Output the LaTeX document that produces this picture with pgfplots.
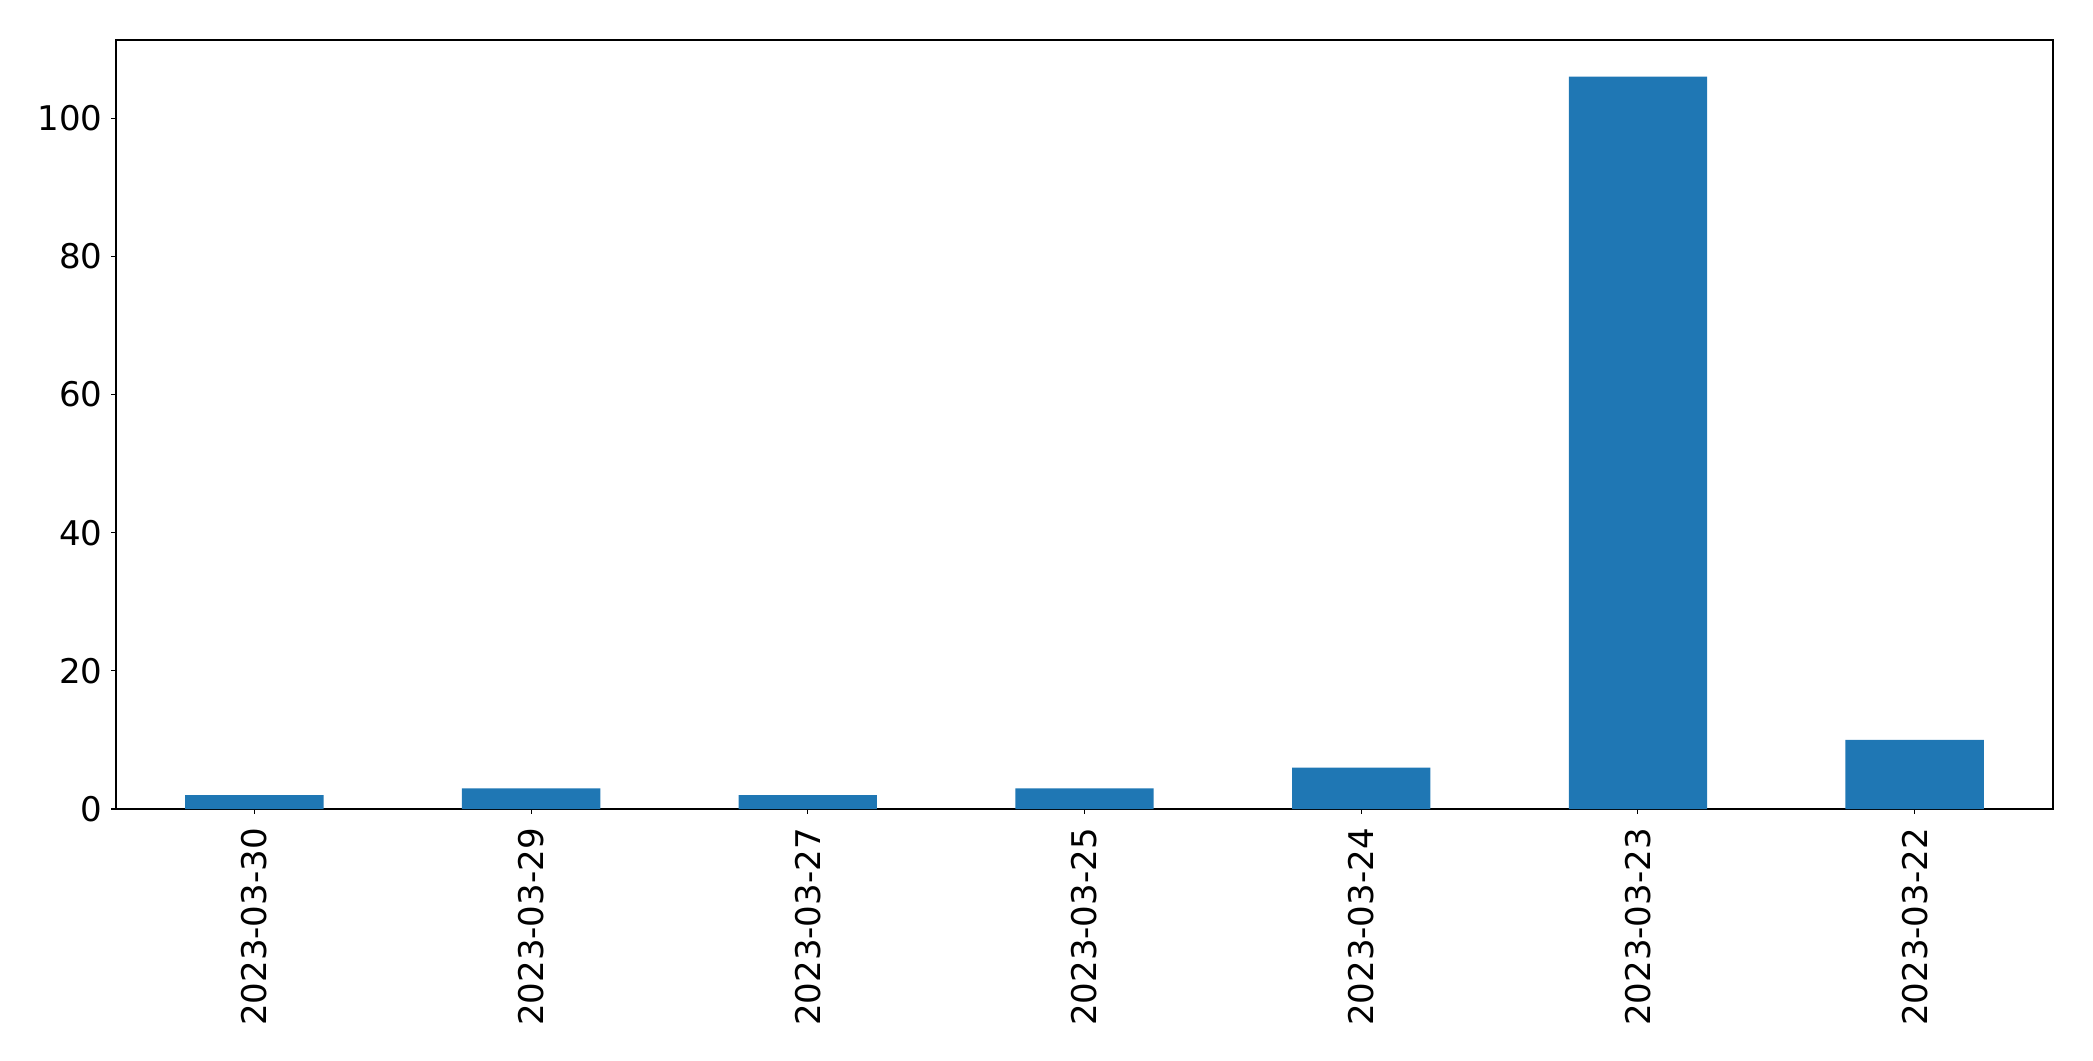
\documentclass[border=0pt]{standalone}
\usepackage{fontspec}
\setmainfont{DejaVu Sans}
\usepackage{pgfplots}
\pgfplotsset{compat=1.18}
\definecolor{mplblue}{HTML}{1F77B4}
\begin{document}
\begin{tikzpicture}
\useasboundingbox (-58bp,-126bp) rectangle (988.5bp,404.5bp);
\begin{axis}[
  at={(0,0)}, anchor=south west,
  width=968.5bp, height=384.5bp, scale only axis,
  xmin=-0.5, xmax=6.5, ymin=0, ymax=111.3,
  axis line style={line width=0.55bp},
  xtick={0,1,2,3,4,5,6},
  xticklabels={2023-03-30,2023-03-29,2023-03-27,2023-03-25,2023-03-24,2023-03-23,2023-03-22},
  ytick={0,20,40,60,80,100},
  tick align=outside,
  xtick pos=bottom, ytick pos=left,
  major tick length=2.4bp,
  tick style={line width=0.55bp, black},
  x tick label style={rotate=90, anchor=east, inner sep=0pt, outer sep=0pt, xshift=-2.4bp},
  y tick label style={anchor=east, inner sep=0pt, outer sep=0pt, xshift=-2bp},
  xticklabel shift=4.8bp, yticklabel shift=2.4bp,
  ticklabel style={font=\fontsize{17bp}{20bp}\selectfont},
  /pgf/number format/assume math mode=true,
  ybar, bar width=0.5, bar shift=0pt,
]
\addplot[fill=mplblue, draw=none] coordinates {(0,2) (1,3) (2,2) (3,3) (4,6) (5,106) (6,10)};
\end{axis}
\end{tikzpicture}
\end{document}
